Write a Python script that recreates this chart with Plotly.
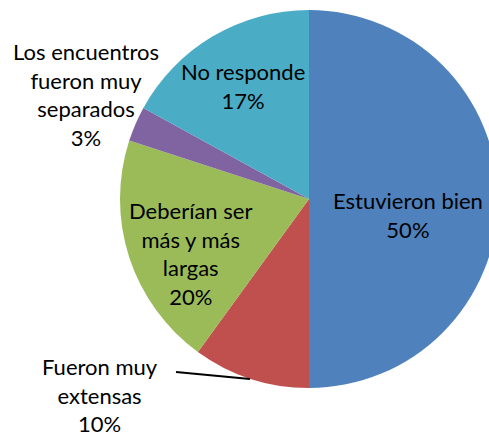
import plotly.graph_objects as go

labels = ["Estuvieron bien", "Fueron muy extensas", "Deberían ser más y más largas",
          "Los encuentros fueron muy separados", "No responde"]
values = [50, 10, 20, 3, 17]
label_lines = ["Estuvieron bien", "Fueron muy<br>extensas", "Deberían ser<br>más y más<br>largas",
               "Los encuentros<br>fueron muy<br>separados", "No responde"]
colors = ["#4F81BD", "#C0504D", "#9BBB59", "#8064A2", "#4BACC6"]

W, H = 498, 438
# label centers in pixels (styling)
label_pos = [(408, 215), (100, 395), (190, 253), (86, 94), (243, 86)]

fig = go.Figure(go.Pie(
    labels=labels, values=values, sort=False, direction="clockwise", rotation=0,
    marker=dict(colors=colors, line=dict(width=0)),
    textinfo="none", hoverinfo="label+percent", showlegend=False,
    domain=dict(x=[120 / W, 1], y=[(H - 388) / H, (H - 10) / H]),
))

total = sum(values)
for txt, v, (px, py) in zip(label_lines, values, label_pos):
    fig.add_annotation(
        x=px / W, y=1 - py / H, xref="paper", yref="paper",
        text=f"{txt}<br>{round(v / total * 100)}%", showarrow=False,
        font=dict(family="Lato", size=22, color="black"), align="center",
        xanchor="center", yanchor="middle",
    )

fig.add_shape(type="line", xref="paper", yref="paper",
              x0=176 / W, y0=1 - 372 / H, x1=250 / W, y1=1 - 379 / H,
              line=dict(color="black", width=2))

fig.update_layout(width=W, height=H, margin=dict(l=0, r=0, t=0, b=0),
                  paper_bgcolor="white", plot_bgcolor="white")

fig.write_html("out.html", config={"displayModeBar": False},
               post_script="document.body.style.margin='0';document.body.style.overflow='hidden';document.documentElement.style.overflow='hidden';")
